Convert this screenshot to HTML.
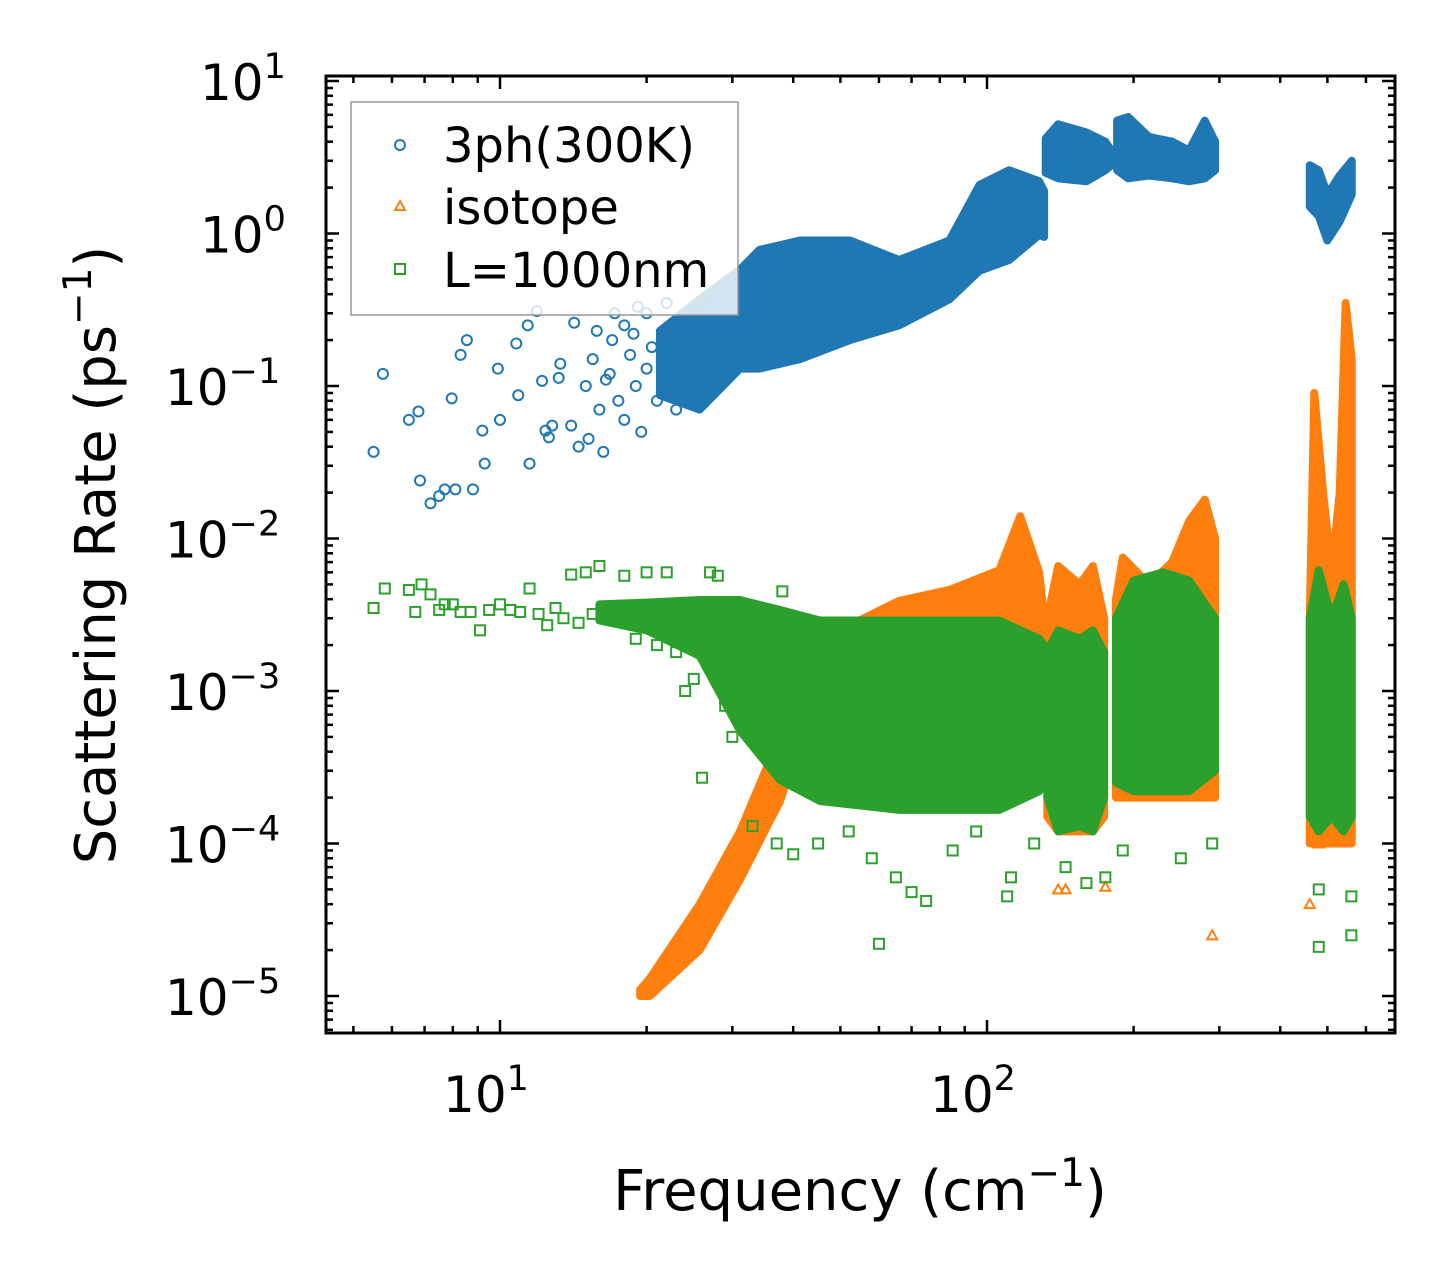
<!DOCTYPE html>
<html><head><meta charset="utf-8"><style>
body{margin:0;background:#fff}
svg{display:block;font-family:"DejaVu Sans","Liberation Sans",sans-serif}
</style></head><body>
<svg id="chart" width="1455" height="1283" viewBox="0 0 1455 1283" xmlns="http://www.w3.org/2000/svg">
<g id="marks"></g>
<g id="axes"></g>
<g>
<rect x="351" y="102" width="387" height="213" fill="#fff" fill-opacity="0.8" stroke="#999" stroke-width="1.5"/>
<g><circle cx="400" cy="145" r="5" fill="none" stroke="#1f77b4" stroke-width="2"/><text x="443" y="162" font-size="48">3ph(300K)</text></g>
<g><path d="M400,201 L405,210 L395,210 Z" fill="none" stroke="#ff7f0e" stroke-width="2"/><text x="443" y="224" font-size="48">isotope</text></g>
<g><rect x="395" y="264" width="10" height="10" fill="none" stroke="#2ca02c" stroke-width="2"/><text x="443" y="287" font-size="48">L=1000nm</text></g>
</g>
<text x="860" y="1210" font-size="56" text-anchor="middle">Frequency (cm<tspan font-size="39" dy="-24">−1</tspan><tspan dy="24">)</tspan></text>
<text transform="translate(115,555) rotate(-90)" font-size="56" text-anchor="middle">Scattering Rate (ps<tspan font-size="39" dy="-24">−1</tspan><tspan dy="24">)</tspan></text>
</svg>
<script>
// ---- data (frequency cm^-1, rate ps^-1) ----
const blueSparseF=[5.5,5.75,6.5,6.8,6.85,7.2,7.5,7.7,7.96,8.1,8.3,8.55,8.8,9.2,9.3,9.9,10,10.8,10.9,11.4,11.5,11.9,12.2,12.4,12.6,12.8,13.2,13.3,14,14.5,15,15.2,15.5,16,16.3,16.8,17,17.5,18,18,18.5,19,19.5,20,20,21,21.5,22,23,24,25,14.2,15.8,16.5,17.2,18.8,19.2,20.5];
const blueSparseR=[0.037,0.12,0.06,0.068,0.024,0.017,0.019,0.021,0.083,0.021,0.16,0.2,0.021,0.051,0.031,0.13,0.06,0.19,0.087,0.25,0.031,0.31,0.108,0.051,0.046,0.055,0.113,0.14,0.055,0.04,0.1,0.045,0.15,0.07,0.037,0.12,0.2,0.08,0.25,0.06,0.16,0.1,0.05,0.13,0.3,0.08,0.2,0.35,0.07,0.12,0.09,0.26,0.23,0.11,0.3,0.22,0.33,0.18];
const blueBands=[
 {f:[21.3,25.7,31.1,34.1,41.3,52.3,66,83.7,96.5,111,128,131],lo:[0.087,0.07,0.13,0.13,0.15,0.2,0.25,0.37,0.57,0.67,0.98,0.95],hi:[0.23,0.37,0.58,0.78,0.9,0.9,0.67,0.9,2.08,2.6,2.2,1.9]},
 {f:[132,140,160,175,180],lo:[2.5,2.3,2.2,2.6,2.8],hi:[4.2,5.2,4.6,4.0,3.5]},
 {f:[185,195,215,240,260,280,294],lo:[2.6,2.3,2.4,2.3,2.2,2.3,2.6],hi:[5.5,5.8,4.3,4.0,3.5,5.5,4.0]},
 {f:[460,480,500,530,561],lo:[1.5,1.3,0.9,1.2,1.8],hi:[2.8,2.6,1.8,2.4,3.0]}
];
const orangeBands=[
 {f:[19.4,20.3,25.7,31.1,35.8,37.6,39.4],lo:[1e-5,1e-5,2e-5,5.8e-5,1.4e-4,1.9e-4,3e-4],hi:[1.1e-5,1.3e-5,4e-5,1.2e-4,3.5e-4,6e-4,1e-3]},
 {f:[40,52.3,66,83.7,106,117,128,131],lo:[5e-4,5e-4,5e-4,5e-4,5e-4,5e-4,5e-4,5e-4],hi:[1.5e-3,2.7e-3,3.9e-3,4.6e-3,6.2e-3,1.4e-2,6e-3,3e-3]},
 {f:[133,140,155,165,174],lo:[1.5e-4,1.2e-4,1.2e-4,1.2e-4,1.5e-4],hi:[3e-3,6.6e-3,5e-3,6.6e-3,3e-3]},
 {f:[184,190,215,240,260,280,294],lo:[2e-4,2e-4,2e-4,2e-4,2e-4,2e-4,2e-4],hi:[4e-3,7.5e-3,5e-3,7e-3,1.3e-2,1.8e-2,1e-2]},
 {f:[460,470,490,510,530,545,561],lo:[1e-4,1e-4,1e-4,1e-4,1e-4,1e-4,1e-4],hi:[3e-3,0.09,0.02,0.006,0.02,0.35,0.15]}
];
const orangeSparseF=[140,145,175,290,460,480];
const orangeSparseR=[5e-5,5e-5,5.2e-5,2.5e-5,4e-5,1e-4];
const greenBands=[
 {f:[16,20,25.7,31.1,37.6,45.4,66,106,128,131],lo:[2.9e-3,2.5e-3,1.7e-3,5.5e-4,2.6e-4,1.9e-4,1.66e-4,1.66e-4,2.2e-4,3e-4],hi:[3.7e-3,3.8e-3,3.95e-3,3.95e-3,3.4e-3,2.9e-3,2.9e-3,2.9e-3,2.2e-3,2e-3]},
 {f:[133,140,155,165,174],lo:[2e-4,1.2e-4,1.3e-4,1.2e-4,2e-4],hi:[1.8e-3,2.5e-3,2.2e-3,2.5e-3,1.8e-3]},
 {f:[184,200,230,260,294],lo:[2.5e-4,2.2e-4,2.2e-4,2.2e-4,3e-4],hi:[3e-3,5.3e-3,6e-3,5.3e-3,3e-3]},
 {f:[460,480,510,540,561],lo:[1.5e-4,1.2e-4,1.5e-4,1.2e-4,1.5e-4],hi:[3e-3,6.2e-3,3e-3,5e-3,3e-3]}
];
const greenSparseF=[5.5,5.8,6.5,6.7,6.9,7.2,7.5,7.7,8,8.3,8.7,9.1,9.5,10,10.5,11,11.5,12,12.5,13,14,15,16,17,18,19,20,22,24,26,27,28,29,30,33,37,40,45,52,58,60,65,70,75,85,95,110,112,125,145,160,175,190,250,290,480,480,560,560,13.5,14.5,15.5,21,23,25,27,29,32,34,36,38];
const greenSparseR=[3.5e-3,4.7e-3,4.6e-3,3.3e-3,5e-3,4.3e-3,3.4e-3,3.7e-3,3.7e-3,3.3e-3,3.3e-3,2.5e-3,3.4e-3,3.7e-3,3.4e-3,3.3e-3,4.7e-3,3.2e-3,2.7e-3,3.5e-3,5.8e-3,6e-3,6.6e-3,3e-3,5.7e-3,2.2e-3,6e-3,6e-3,1e-3,2.7e-4,6e-3,5.7e-3,9e-4,5e-4,1.3e-4,1e-4,8.5e-5,1e-4,1.2e-4,8e-5,2.2e-5,6e-5,4.8e-5,4.2e-5,9e-5,1.2e-4,4.5e-5,6e-5,1e-4,7e-5,5.5e-5,6e-5,9e-5,8e-5,1e-4,2.1e-5,5e-5,2.5e-5,4.5e-5,3e-3,2.8e-3,3.2e-3,2e-3,1.8e-3,1.2e-3,1.5e-3,8e-4,7e-4,5e-4,4e-4,4.5e-3];
const xTicks=[10,100];
const xTickLabels=["1","2"];
const yTicks=[1e-5,1e-4,1e-3,1e-2,1e-1,1,10];
const yTickLabels=["−5","−4","−3","−2","−1","0","1"];

// ---- axes ----
const L=326,R=1395,T=76,B=1033;
const X=f=>500+487*(Math.log10(f)-1);
const Y=r=>233.5-152.5*Math.log10(r);
const NS="http://www.w3.org/2000/svg";
const marks=document.getElementById('marks'),axes=document.getElementById('axes');
function mk(tag,attrs,parent){const e=document.createElementNS(NS,tag);for(const k in attrs)e.setAttribute(k,attrs[k]);parent.appendChild(e);return e;}
const COL={b:"#1f77b4",o:"#ff7f0e",g:"#2ca02c"};
function band(b,c,name){
  let pts=b.f.map((f,i)=>X(f)+","+Y(b.hi[i]));
  for(let i=b.f.length-1;i>=0;i--)pts.push(X(b.f[i])+","+Y(b.lo[i]));
  const p=mk('polygon',{points:pts.join(' '),fill:c,stroke:c,'stroke-width':8,'stroke-linejoin':'round'},marks);
  
  
}
function circ(f,r){const e=mk('circle',{cx:X(f),cy:Y(r),r:5,fill:'none',stroke:COL.b,'stroke-width':2},marks);
  
  }
function tri(f,r){const x=X(f),y=Y(r);const e=mk('path',{d:`M${x},${y-5}L${x+5},${y+4}L${x-5},${y+4}Z`,fill:'none',stroke:COL.o,'stroke-width':2},marks);
  
  }
function sq(f,r){const e=mk('rect',{x:X(f)-5,y:Y(r)-5,width:10,height:10,fill:'none',stroke:COL.g,'stroke-width':2},marks);
  
  }

blueBands.forEach(b=>band(b,COL.b,'band-3ph'));
blueSparseF.forEach((f,i)=>circ(f,blueSparseR[i]));
orangeBands.forEach(b=>band(b,COL.o,'band-isotope'));
orangeSparseF.forEach((f,i)=>tri(f,orangeSparseR[i]));
greenBands.forEach(b=>band(b,COL.g,'band-boundary'));
greenSparseF.forEach((f,i)=>sq(f,greenSparseR[i]));

// frame
const fr=mk('rect',{x:L,y:T,width:R-L,height:B-T,fill:'none',stroke:'#000','stroke-width':3},axes);


function tick(x1,y1,x2,y2){mk('line',{x1,y1,x2,y2,stroke:'#000','stroke-width':2.5},axes);}
for(let d=1;d<=100;d*=10){for(let m=1;m<10;m++){const f=m*d,x=X(f);if(x<L||x>R)continue;const len=m===1?13:7;tick(x,B,x,B-len);tick(x,T,x,T+len);}}
xTicks.forEach((f,i)=>{const t=mk('text',{x:X(f)-14,y:1112,'font-size':50,'text-anchor':'middle'},axes);t.textContent='10';const s=mk('tspan',{'font-size':35,dy:-22},t);s.textContent=xTickLabels[i];
  
  });
for(let e=-6;e<=1;e++){for(let m=1;m<10;m++){const r=m*Math.pow(10,e),y=Y(r);if(y<T||y>B)continue;const len=m===1?13:7;tick(L,y,L+len,y);tick(R,y,R-len,y);}}
yTicks.forEach((r,i)=>{const t=mk('text',{x:yTickLabels[i].length>1?165:200,y:Y(r)+19,'font-size':50},axes);t.textContent='10';const s=mk('tspan',{'font-size':35,dy:-22},t);s.textContent=yTickLabels[i];
  
  });
</script>
</body></html>
